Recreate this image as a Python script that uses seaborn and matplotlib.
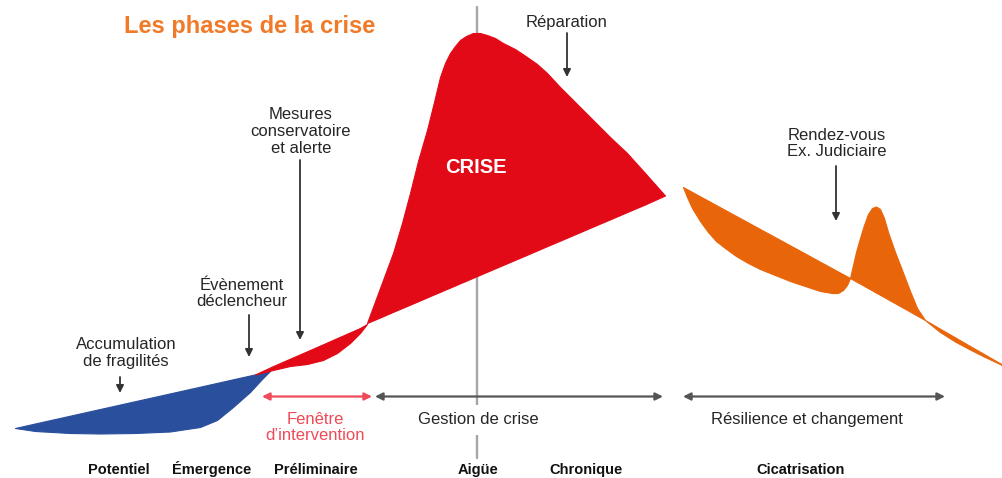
import numpy as np
import matplotlib
matplotlib.use("Agg")
import matplotlib.pyplot as plt
import seaborn as sns

# ---------------- data (pixel-like units) ----------------
title = "Les phases de la crise"
phase_labels = ["Potentiel", "Émergence", "Préliminaire", "Aigüe", "Chronique", "Cicatrisation"]
phase_x = [119, 212, 316, 478, 586, 801]

# blue shape: "Accumulation" (Potentiel / Émergence)
blue_x = [15, 35, 70, 100, 135, 170, 200, 217, 233, 250, 262, 270]
blue_upper = [428, 423.5, 415.7, 409, 401.2, 393.4, 386.7, 382.9, 379.3, 375.5, 372.8, 371]
blue_lower = [428, 431, 433, 433.5, 433, 431.5, 427, 420, 407, 392, 379, 371]

# small red shape (Préliminaire)
pre_x = [255, 273, 290, 307, 323, 337, 350, 360, 367]
pre_upper = [374.5, 366.1, 358.7, 351.3, 344.3, 338.1, 332.4, 328, 324]
pre_lower = [374.5, 370, 366, 364, 360, 353, 343, 333, 324]

# big red shape (CRISE)
crise_x = [367, 380, 393, 402, 410, 418, 427, 434, 440, 445, 450, 455, 460, 466,
           473, 480, 487, 495, 503, 515, 527, 537, 547, 560, 575, 593, 610, 627,
           645, 665]
crise_upper = [323, 288, 253, 223, 193, 161, 130, 102, 77, 63, 53, 46, 40, 36,
               33, 33, 35, 38, 43, 49, 57, 64, 73, 87, 102, 120, 137, 153,
               173, 195.5]
crise_lower = [323, 317.5, 311.9, 308.1, 304.7, 301.3, 297.4, 294.4, 291.9, 289.7,
               287.6, 285.5, 283.3, 280.8, 277.8, 274.8, 271.8, 268.4, 265, 259.9,
               254.8, 250.5, 246.2, 240.7, 234.3, 226.6, 219.4, 212.1, 204.5, 195.5]

# orange shape 1 (Résilience)
or1_x = [683, 687, 692, 700, 708, 716, 725, 736, 748, 760, 775, 790, 808, 820,
         832, 838, 843, 847, 850]
or1_upper = [187, 189.2, 191.9, 196.3, 200.6, 205, 209.9, 215.9, 222.4, 229,
             237.1, 245.3, 255.1, 261.7, 268.2, 271.5, 274.2, 276.4, 278]
or1_lower = [187, 197, 208, 221, 232, 241, 248, 256, 263, 269, 275, 281, 287, 291,
             293, 293, 290, 285, 278]

# orange spike (Rendez-vous Ex. Judiciaire)
spike_x = [850, 853, 856, 860, 864, 868, 872, 876, 880, 884, 888, 895, 902, 910,
           917, 925]
spike_upper = [278, 265, 252, 238, 225, 214, 208, 206.5, 209, 218, 232, 252, 270,
               291, 308, 320]
spike_lower = [278, 279.7, 281.4, 283.6, 285.8, 288.1, 290.3, 292.6, 294.8, 297,
               299.3, 303.2, 307.1, 311.6, 315.5, 320]

# orange tail
tail_x = [925, 940, 955, 970, 985, 1003]
tail_upper = [320, 328.7, 337.3, 346, 354.6, 365]
tail_lower = [320, 332, 341.5, 349.5, 357, 365.5]

# vertical "Aigüe" marker line
aigue_x = [477, 477]
aigue_y = [7, 458]

# ---------------- style ----------------
BLUE = "#2a4f9c"
RED = "#e20a17"
ORANGE = "#e8650a"
TITLE_ORANGE = "#f07a28"
LIGHT_RED = "#ee4a58"
TXT = "#262626"

sns.set_theme(style="white")
plt.rcParams["font.family"] = ["Liberation Sans", "DejaVu Sans"]

fig = plt.figure(figsize=(10.03, 4.78), dpi=100)
ax = fig.add_axes([0, 0, 1, 1])
ax.set_xlim(0, 1003)
ax.set_ylim(478, 0)
ax.axis("off")

# vertical reference line, kept behind the shapes
ax.plot(aigue_x, aigue_y, color="#a6a6a6", lw=1.7, zorder=0.5)

def shape(x, up, lo, color):
    pc = ax.fill_between(x, up, lo, facecolor=color, edgecolor=color, lw=0.8,
                         alpha=1.0)
    pc.set_zorder(3)

shape(blue_x, blue_upper, blue_lower, BLUE)
shape(pre_x, pre_upper, pre_lower, RED)
shape(crise_x, crise_upper, crise_lower, RED)
shape(or1_x, or1_upper, or1_lower, ORANGE)
shape(spike_x, spike_upper, spike_lower, ORANGE)
shape(tail_x, tail_upper, tail_lower, ORANGE)

# title
ax.text(249.5, 33, title, color=TITLE_ORANGE, fontsize=17, fontweight="bold",
        ha="center", va="baseline")

# CRISE
ax.text(476, 173, "CRISE", color="white", fontsize=14.5, fontweight="bold",
        ha="center", va="baseline", zorder=6)

def label(x, ys, lines, color=TXT, size=12, weight="normal"):
    for y, t in zip(ys, lines):
        ax.text(x, y, t, color=color, fontsize=size, fontweight=weight,
                ha="center", va="baseline", zorder=6)

label(567, [27], ["Réparation"])
label(301, [119, 136, 153], ["Mesures", "conservatoire", "et alerte"])
label(242, [290, 306], ["Évènement", "déclencheur"])
label(126, [349, 366], ["Accumulation", "de fragilités"])
label(837, [140, 156], ["Rendez-vous", "Ex. Judiciaire"])
label(315, [424, 440], ["Fenêtre", "d’intervention"], color=LIGHT_RED)
label(807, [424], ["Résilience et changement"])
ax.text(478, 424, "Gestion de crise", color=TXT, fontsize=12, ha="center",
        va="baseline", zorder=6,
        bbox=dict(boxstyle="square,pad=0.45", fc="white", ec="none"))

for x, t in zip(phase_x, phase_labels):
    ax.text(x, 474, t, color="#111111", fontsize=10.5, fontweight="bold",
            ha="center", va="baseline")

# pointer arrows
def pointer(x, y0, y1):
    ax.annotate("", xy=(x, y1), xytext=(x, y0),
                arrowprops=dict(arrowstyle="-|>", color="#333333", lw=1.3,
                                mutation_scale=11, shrinkA=0, shrinkB=0), zorder=5)

pointer(567, 33, 77)
pointer(300, 160, 340)
pointer(249, 315, 357)
pointer(120, 377, 393)
pointer(836, 166, 221)

# horizontal span arrows
def span(x0, x1, color, lw=1.6):
    ax.annotate("", xy=(x1, 396.5), xytext=(x0, 396.5),
                arrowprops=dict(arrowstyle="<|-|>", color=color, lw=lw,
                                mutation_scale=11, shrinkA=0, shrinkB=0), zorder=5)

span(262, 372, LIGHT_RED)
span(375, 663, "#555555")
span(683, 945, "#555555")

fig.savefig("out.png", dpi=100)
